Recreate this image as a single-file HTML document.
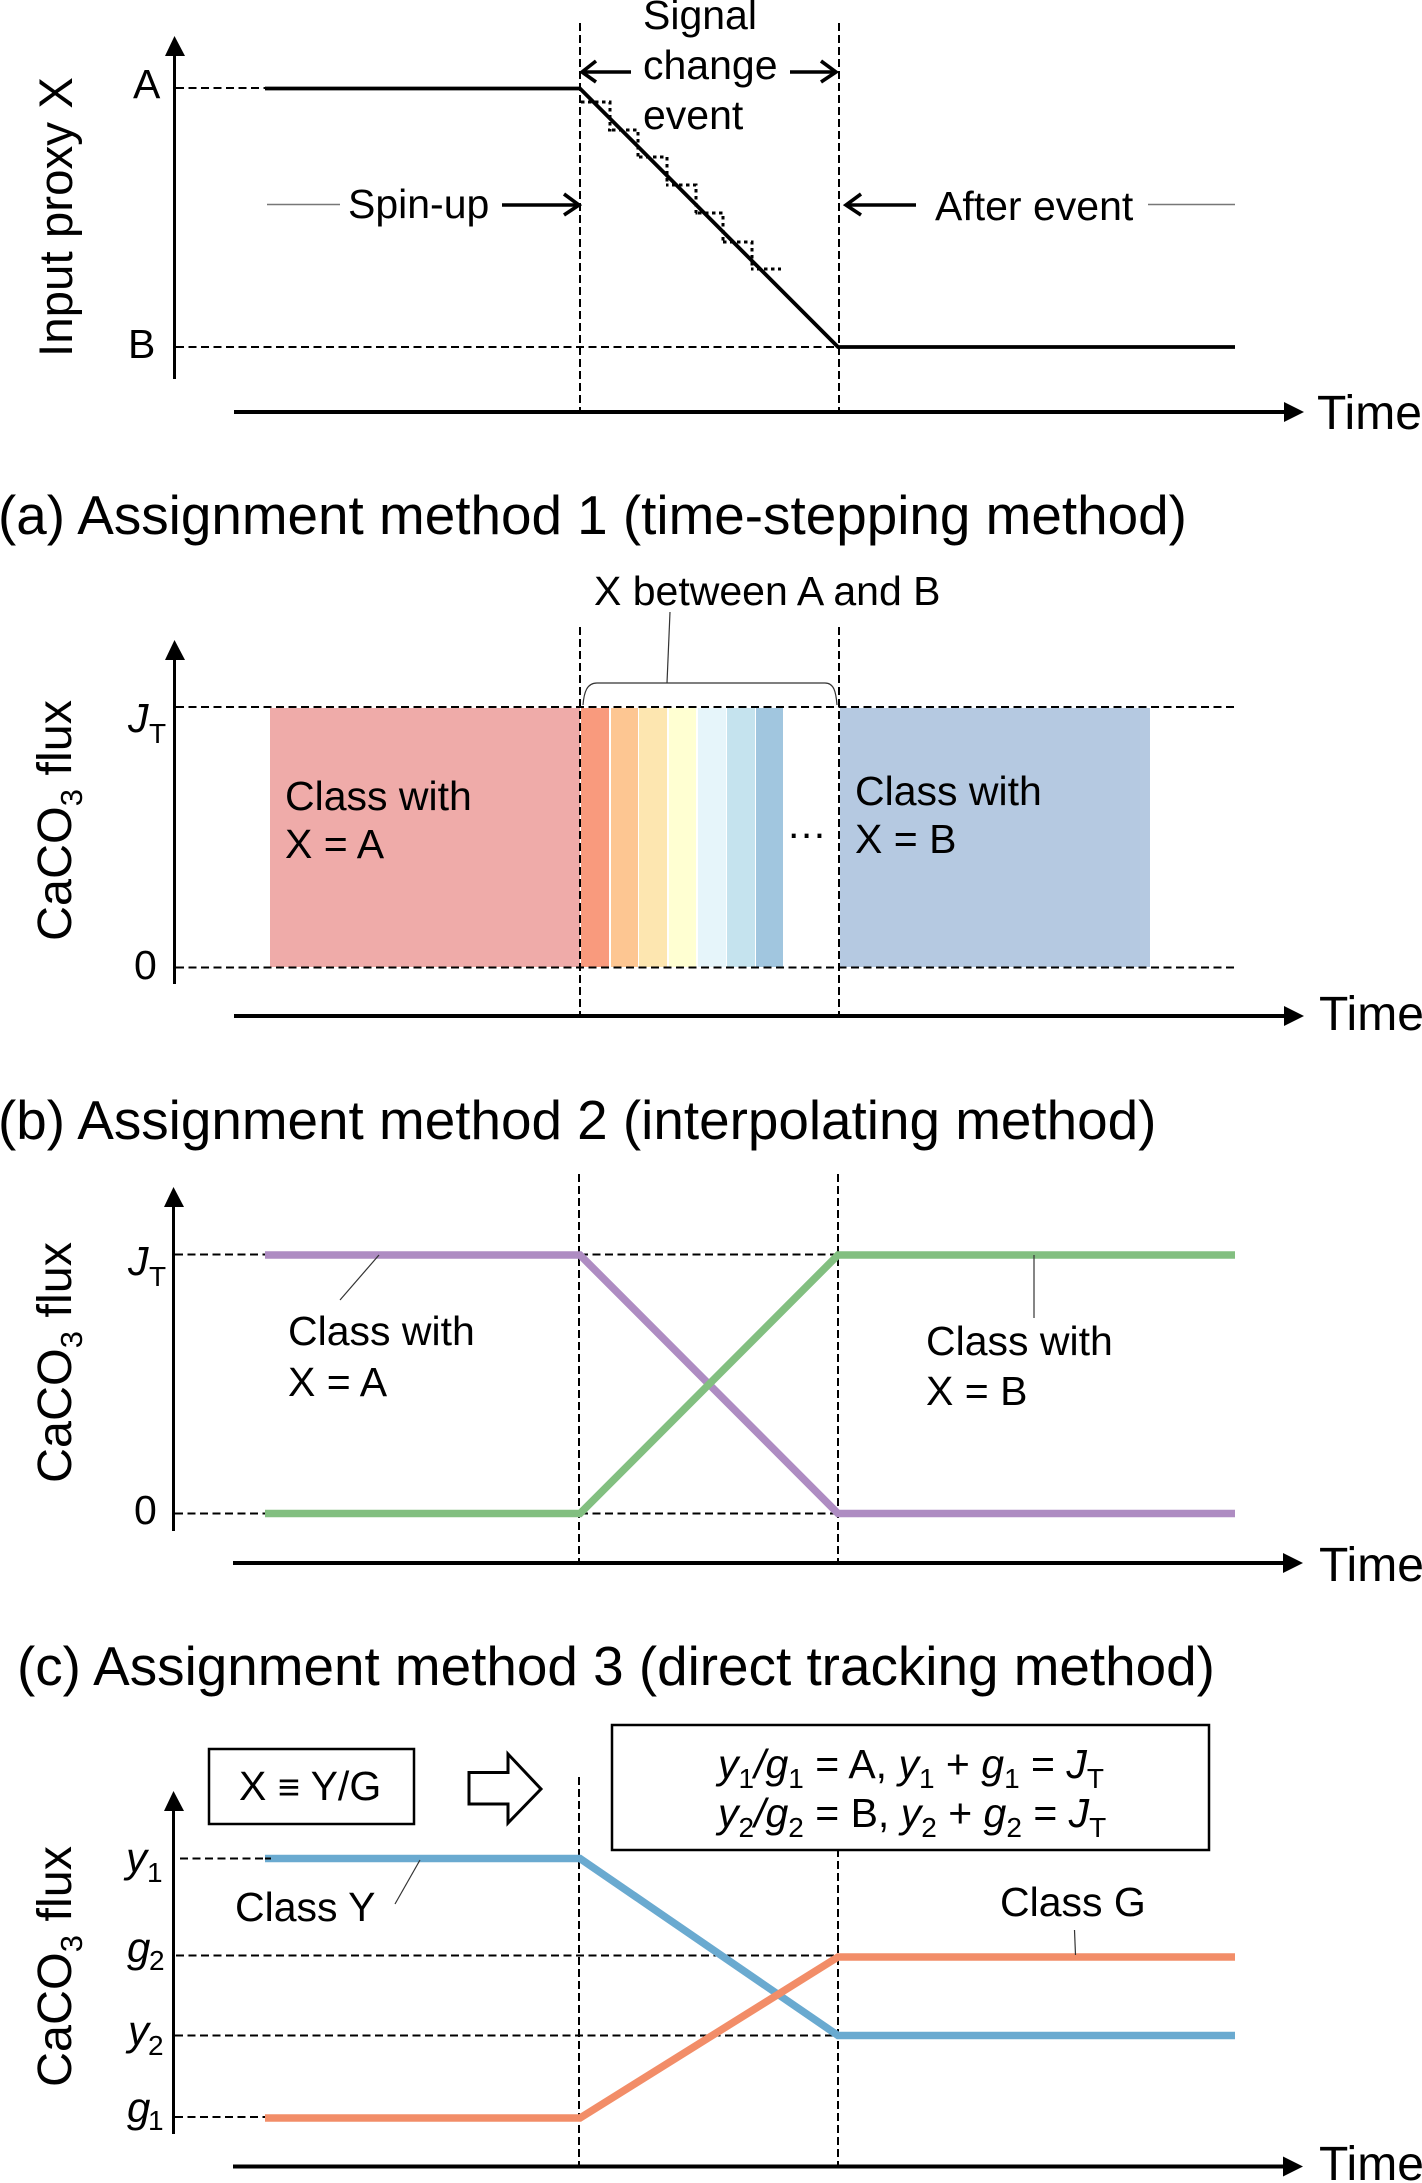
<!DOCTYPE html>
<html><head><meta charset="utf-8"><style>
html,body{margin:0;padding:0;background:#fff}
svg{display:block}
text{font-family:"Liberation Sans",sans-serif;fill:#000}
.t{font-size:41px}
.h{font-size:54.85px}
.v{font-size:47.5px}
.c{font-size:48.5px}
.m{font-size:48px}
.l{font-size:41px}
.i{font-style:italic}
.s{font-size:28px}
.d{stroke:#000;stroke-width:2;stroke-dasharray:8 4;fill:none}
.dh{stroke:#000;stroke-width:2;stroke-dasharray:8 4.5;fill:none}
.ax{stroke:#000;stroke-width:3;fill:none}
.xa{stroke:#000;stroke-width:4;fill:none}
.ar{stroke:#000;stroke-width:3.6;fill:none}
.ld{stroke:#333;stroke-width:1.2;fill:none}
.gr{stroke:#777;stroke-width:1.5;fill:none}
</style></head><body>
<svg xmlns="http://www.w3.org/2000/svg" width="1422" height="2183" viewBox="0 0 1422 2183">
<rect width="1422" height="2183" fill="#fff"/>

<!-- Top panel -->
<line class="ax" x1="174.5" y1="50" x2="174.5" y2="379"/>
<polygon points="174.5,36 165,56 185,56"/>
<line class="dh" x1="176" y1="88" x2="265" y2="88"/>
<line class="dh" x1="176" y1="347" x2="838" y2="347"/>
<line class="d" x1="580" y1="23" x2="580" y2="412"/>
<line class="d" x1="839" y1="23" x2="839" y2="412"/>
<polyline fill="none" stroke="#000" stroke-width="3" stroke-dasharray="3.5 3.5" points="581,102 610,102 610,130 608,130 638,130 638,157 637,157 667,157 667,185 666,185 696,185 696,213 695,213 723,213 723,242 722,242 752,242 752,269 751,269 781,269"/>
<polyline fill="none" stroke="#000" stroke-width="3.8" points="265,88.5 580,88.5 838,347 1235,347"/>
<line class="xa" x1="234" y1="412" x2="1286" y2="412"/>
<polygon points="1304,412 1284,402 1284,422"/>
<text class="m" x="1317" y="429">Time</text>
<text class="t" x="133" y="98">A</text>
<text class="t" x="128" y="358">B</text>
<text class="v" transform="translate(72 357) rotate(-90)">Input proxy X</text>
<text class="l" x="643" y="29">Signal</text>
<text class="l" x="643" y="79">change</text>
<text class="l" x="643" y="129">event</text>
<line class="ar" x1="582" y1="72" x2="631" y2="72"/>
<polyline class="ar" points="596,61 582,72 596,82"/>
<line class="ar" x1="790" y1="72" x2="835" y2="72"/>
<polyline class="ar" points="821,61 836,72 821,82"/>
<line class="gr" x1="267" y1="204.5" x2="340" y2="204.5"/>
<text class="l" x="348" y="218">Spin-up</text>
<line class="ar" x1="502" y1="205" x2="578" y2="205"/>
<polyline class="ar" points="564,194 579,205 564,215"/>
<line class="ar" x1="848" y1="205" x2="916" y2="205"/>
<polyline class="ar" points="861,194 846,205 861,215"/>
<text class="l" x="935" y="220">After event</text>
<line class="gr" x1="1148" y1="204.5" x2="1235" y2="204.5"/>

<!-- Panel a -->
<text class="h" x="-2" y="534">(a) Assignment method 1 (time-stepping method)</text>
<text class="l" x="594" y="605">X between A and B</text>
<rect x="270" y="708" width="310" height="259" fill="#EFABA9"/>
<rect x="581" y="708" width="28" height="259" fill="#F99A7D"/>
<rect x="611" y="708" width="27" height="259" fill="#FDC692"/>
<rect x="639" y="708" width="28" height="259" fill="#FDE6B0"/>
<rect x="669" y="708" width="27" height="259" fill="#FFFFD2"/>
<rect x="698" y="708" width="28" height="259" fill="#E6F5FA"/>
<rect x="727" y="708" width="28" height="259" fill="#C5E3EE"/>
<rect x="756" y="708" width="27" height="259" fill="#A1C6DF"/>
<rect x="840" y="708" width="310" height="259" fill="#B5C9E1"/>
<line class="ax" x1="174.5" y1="650" x2="174.5" y2="984"/>
<polygon points="174.5,640 165,660 185,660"/>
<line class="dh" x1="176" y1="707" x2="1238" y2="707"/>
<line class="dh" x1="176" y1="967.5" x2="1238" y2="967.5"/>
<line class="d" x1="580" y1="627" x2="580" y2="1016"/>
<line class="d" x1="839" y1="627" x2="839" y2="1016"/>
<path class="ld" stroke-width="1.5" d="M583,705 C584,692 587,683 597,683 L825,683 C834,683 836,692 837,705"/>
<line class="ld" stroke-width="1.5" x1="670" y1="612" x2="667" y2="683"/>
<line class="xa" x1="234" y1="1016" x2="1286" y2="1016"/>
<polygon points="1304,1016 1284,1006 1284,1026"/>
<text class="m" x="1319" y="1030">Time</text>
<text class="t i" x="128" y="732">J</text><text class="s" x="149" y="743">T</text>
<text class="t" x="134" y="979">0</text>
<text class="c" transform="translate(71 941) rotate(-90)">CaCO<tspan font-size="31" dy="11">3</tspan><tspan dy="-11"> flux</tspan></text>
<text class="l" x="285" y="810">Class with</text>
<text class="l" x="285" y="858">X = A</text>
<text class="l" x="855" y="805">Class with</text>
<text class="l" x="855" y="853">X = B</text>
<text class="l" x="788" y="838" letter-spacing="1.5">...</text>

<!-- Panel b -->
<text class="h" x="-2" y="1139">(b) Assignment method 2 (interpolating method)</text>
<line class="ax" x1="173.5" y1="1197" x2="173.5" y2="1531"/>
<polygon points="173.5,1187 164,1207 184,1207"/>
<line class="dh" x1="175" y1="1254.5" x2="265" y2="1254.5"/>
<line class="dh" x1="580" y1="1254.5" x2="838" y2="1254.5"/>
<line class="dh" x1="175" y1="1513.5" x2="265" y2="1513.5"/>
<line class="dh" x1="580" y1="1513.5" x2="838" y2="1513.5"/>
<line class="d" x1="579" y1="1174" x2="579" y2="1563"/>
<line class="d" x1="838" y1="1174" x2="838" y2="1563"/>
<polyline fill="none" stroke="#AE8CC2" stroke-width="7.5" points="265,1255 580,1255 838,1513.5 1235,1513.5"/>
<polyline fill="none" stroke="#82BF80" stroke-width="7.5" points="265,1513.5 580,1513.5 838,1255 1235,1255"/>
<line class="ld" x1="379" y1="1255" x2="340" y2="1300"/>
<line class="ld" x1="1034" y1="1255" x2="1034" y2="1318"/>
<line class="xa" x1="233" y1="1563" x2="1285" y2="1563"/>
<polygon points="1303,1563 1283,1553 1283,1573"/>
<text class="m" x="1319" y="1581">Time</text>
<text class="t i" x="128" y="1275">J</text><text class="s" x="149" y="1286">T</text>
<text class="t" x="134" y="1524">0</text>
<text class="c" transform="translate(71 1483) rotate(-90)">CaCO<tspan font-size="31" dy="11">3</tspan><tspan dy="-11"> flux</tspan></text>
<text class="l" x="288" y="1345">Class with</text>
<text class="l" x="288" y="1396">X = A</text>
<text class="l" x="926" y="1355">Class with</text>
<text class="l" x="926" y="1405">X = B</text>

<!-- Panel c -->
<text class="h" x="17" y="1685">(c) Assignment method 3 (direct tracking method)</text>
<line class="d" x1="579" y1="1777" x2="579" y2="2166"/>
<line class="d" x1="838" y1="1777" x2="838" y2="2166"/>
<rect x="209" y="1749" width="205" height="75" fill="#fff" stroke="#000" stroke-width="2.5"/>
<text class="l" x="239" y="1800">X <tspan font-size="38">≡</tspan> Y/G</text>
<polygon points="469,1772.5 508,1772.5 508,1754 541,1789 508,1823 508,1804 469,1804" fill="#fff" stroke="#000" stroke-width="3"/>
<rect x="612" y="1725" width="597" height="125" fill="#fff" stroke="#000" stroke-width="2.5"/>
<text x="718" y="1778" font-size="41"><tspan class="i">y</tspan><tspan class="s" dy="10">1</tspan><tspan class="i" dy="-10">/g</tspan><tspan class="s" dy="10">1</tspan><tspan dy="-10"> = A, </tspan><tspan class="i">y</tspan><tspan class="s" dy="10">1</tspan><tspan dy="-10"> + </tspan><tspan class="i">g</tspan><tspan class="s" dy="10">1</tspan><tspan dy="-10"> = </tspan><tspan class="i">J</tspan><tspan class="s" dy="10">T</tspan></text>
<text x="718" y="1827" font-size="41"><tspan class="i">y</tspan><tspan class="s" dy="10">2</tspan><tspan class="i" dy="-10">/g</tspan><tspan class="s" dy="10">2</tspan><tspan dy="-10"> = B, </tspan><tspan class="i">y</tspan><tspan class="s" dy="10">2</tspan><tspan dy="-10"> + </tspan><tspan class="i">g</tspan><tspan class="s" dy="10">2</tspan><tspan dy="-10"> = </tspan><tspan class="i">J</tspan><tspan class="s" dy="10">T</tspan></text>
<line class="ax" x1="173.5" y1="1800" x2="173.5" y2="2134"/>
<polygon points="173.5,1791 164,1811 184,1811"/>
<line class="dh" x1="180" y1="1858.5" x2="271" y2="1858.5"/>
<line class="dh" x1="176" y1="1955.5" x2="838" y2="1955.5"/>
<line class="dh" x1="175" y1="2035.5" x2="838" y2="2035.5"/>
<line class="dh" x1="175" y1="2117" x2="265" y2="2117"/>
<polyline fill="none" stroke="#6AAAD0" stroke-width="7.5" points="265,1858.5 580,1858.5 838,2035.5 1235,2035.5"/>
<polyline fill="none" stroke="#F28D68" stroke-width="7.5" points="265,2118 580,2118 838,1957 1235,1957"/>
<line class="dh" x1="265" y1="1858.5" x2="271" y2="1858.5"/>
<line class="ld" x1="420" y1="1860" x2="395" y2="1904"/>
<line class="ld" x1="1074.5" y1="1930" x2="1075.5" y2="1955"/>
<line class="xa" x1="233" y1="2166.5" x2="1285" y2="2166.5"/>
<polygon points="1303,2166.5 1283,2156.5 1283,2176.5"/>
<text class="m" x="1319" y="2180">Time</text>
<text class="t i" style="font-size:42px" x="126" y="1872">y</text><text class="s" x="147" y="1882">1</text>
<text class="t i" style="font-size:42px" x="127" y="1962">g</text><text class="s" x="149" y="1970">2</text>
<text class="t i" style="font-size:42px" x="128" y="2045">y</text><text class="s" x="148" y="2055">2</text>
<text class="t i" style="font-size:42px" x="127" y="2122">g</text><text class="s" x="148" y="2130">1</text>
<text class="c" transform="translate(71 2087) rotate(-90)">CaCO<tspan font-size="31" dy="11">3</tspan><tspan dy="-11"> flux</tspan></text>
<text class="l" x="235" y="1921">Class Y</text>
<text class="l" x="1000" y="1916">Class G</text>
</svg>
</body></html>
